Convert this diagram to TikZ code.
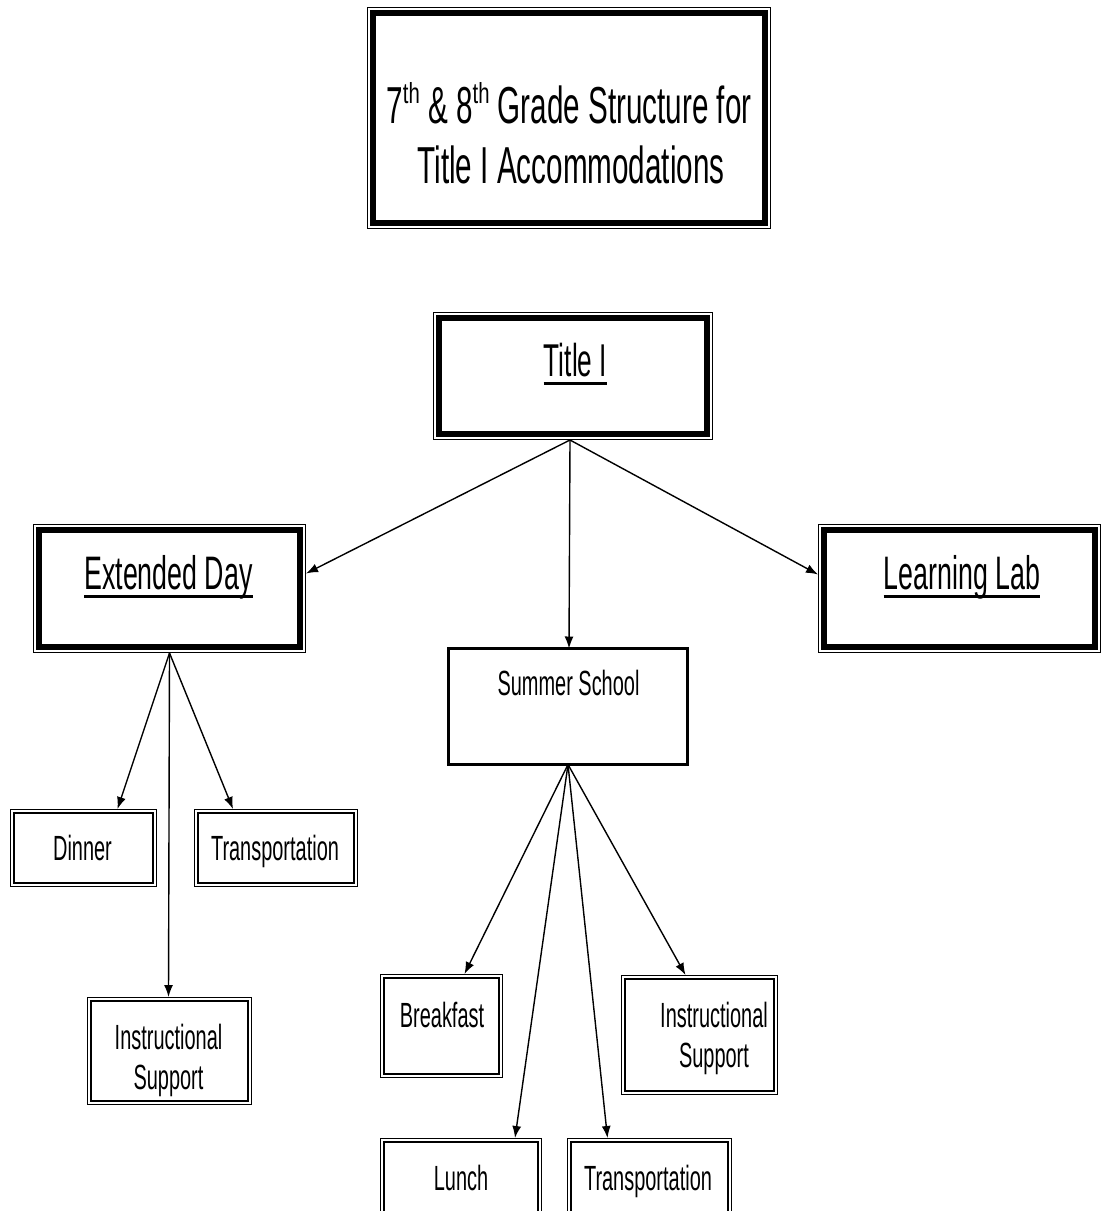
\documentclass[tikz,border=0pt]{standalone}
\usepackage{fontspec}
\setmainfont{Liberation Sans}[FakeStretch=0.57]
\newfontfamily\supfont{Liberation Sans}[FakeStretch=0.7]
\usetikzlibrary{arrows.meta}
\newcommand\thsup{\raisebox{20pt}{\supfont\fontsize{29}{29}\selectfont th}}
\newcommand\bigdbl[1]{%
  \draw[line width=1.2pt] ([xshift=0.6pt,yshift=-0.6pt]#1.north west) rectangle ([xshift=-0.6pt,yshift=0.6pt]#1.south east);
  \draw[line width=6pt] ([xshift=6.2pt,yshift=-6.2pt]#1.north west) rectangle ([xshift=-6.2pt,yshift=6.2pt]#1.south east);}
\newcommand\smalldbl[1]{%
  \draw[line width=1.2pt] ([xshift=0.6pt,yshift=-0.6pt]#1.north west) rectangle ([xshift=-0.6pt,yshift=0.6pt]#1.south east);
  \draw[line width=2.4pt] ([xshift=3.9pt,yshift=-3.9pt]#1.north west) rectangle ([xshift=-3.9pt,yshift=3.9pt]#1.south east);}
\begin{document}
\begin{tikzpicture}[x=1pt,y=-1pt,
  boxshape/.style={draw=none,inner sep=0pt,outer sep=0pt,rectangle},
  lbl/.style={inner sep=0pt,anchor=base},
  big/.style={lbl,font=\fontsize{47}{56}\selectfont},
  small/.style={lbl,font=\fontsize{35}{42}\selectfont},
  arr/.style={line width=1.4pt,-{Latex[length=12pt,width=9pt]}},
  uline/.style={line width=3pt}]
\clip (0,0) rectangle (1104,1211);
\fill[white] (0,0) rectangle (1104,1211);
% boxes
\node[boxshape,minimum width=404pt,minimum height=222pt] (title) at (569,118) {};
\node[boxshape,minimum width=280pt,minimum height=128pt] (tib) at (573,376) {};
\node[boxshape,minimum width=273pt,minimum height=129pt] (ed) at (169.5,588.5) {};
\node[boxshape,minimum width=283pt,minimum height=129pt] (ll) at (959.5,588.5) {};
\node[boxshape,draw,line width=3pt,minimum width=239pt,minimum height=116pt] (ss) at (568,706.5) {};
\node[boxshape,minimum width=147pt,minimum height=78pt] (din) at (83.5,848) {};
\node[boxshape,minimum width=164pt,minimum height=78pt] (tred) at (276,848) {};
\node[boxshape,minimum width=165pt,minimum height=108pt] (isl) at (169.5,1051) {};
\node[boxshape,minimum width=123pt,minimum height=104pt] (bf) at (441.5,1026) {};
\node[boxshape,minimum width=157pt,minimum height=120pt] (isr) at (699.5,1035) {};
\node[boxshape,minimum width=162pt,minimum height=87pt] (lu) at (461,1181.5) {};
\node[boxshape,minimum width=165pt,minimum height=87pt] (trss) at (649.5,1181.5) {};
\bigdbl{title}
\bigdbl{tib}
\bigdbl{ed}
\bigdbl{ll}
\smalldbl{din}
\smalldbl{tred}
\smalldbl{isl}
\smalldbl{bf}
\smalldbl{isr}
\smalldbl{lu}
\smalldbl{trss}
% texts
\node[lbl,font=\fontsize{52}{60}\selectfont] (t1) at (569,123) {7\thsup{} \& 8\thsup{} Grade Structure for};
\node[lbl,font=\fontsize{52}{60}\selectfont] (t2) at (571,183) {Title I Accommodations};
\node[lbl,font=\fontsize{46}{56}\selectfont] (tiT) at (575.5,376) {Title I};
\draw[uline] ([yshift=-7pt]tiT.base west) -- ([yshift=-7pt]tiT.base east);
\node[big] (edT) at (168.5,589) {Extended Day};
\draw[uline] ([yshift=-7pt]edT.base west) -- ([yshift=-7pt]edT.base east);
\node[big] (llT) at (962,589) {Learning Lab};
\draw[uline] ([yshift=-7pt]llT.base west) -- ([yshift=-7pt]llT.base east);
\node[small] (ssT) at (568.5,695) {Summer School};
\node[small] (dinT) at (82.5,860) {Dinner};
\node[small] (tredT) at (275,860) {Transportation};
\node[small] (islT1) at (168.5,1049) {Instructional};
\node[small] (islT2) at (168.5,1089) {Support};
\node[small] (bfT) at (442,1027) {Breakfast};
\node[small] (isrT1) at (714,1027) {Instructional};
\node[small] (isrT2) at (714,1067) {Support};
\node[small] (luT) at (461,1190) {Lunch};
\node[small] (trssT) at (648,1190) {Transportation};
% arrows
\draw[arr] ([xshift=-3pt]tib.south) -- ([yshift=15pt]ed.east);
\draw[arr] ([xshift=-3pt]tib.south) -- ([yshift=14pt]ll.west);
\draw[arr] ([xshift=-3pt]tib.south) -- ([xshift=1pt]ss.north);
\draw[arr] (ed.south) -- ([xshift=34pt]din.north);
\draw[arr] (ed.south) -- ([xshift=-43pt]tred.north);
\draw[arr] (ed.south) -- ([xshift=-1pt]isl.north);
\draw[arr] (ss.south) -- ([xshift=23pt]bf.north);
\draw[arr] (ss.south) -- ([xshift=54pt]lu.north);
\draw[arr] (ss.south) -- ([xshift=-42pt]trss.north);
\draw[arr] (ss.south) -- ([xshift=-14pt]isr.north);
\end{tikzpicture}
\end{document}
